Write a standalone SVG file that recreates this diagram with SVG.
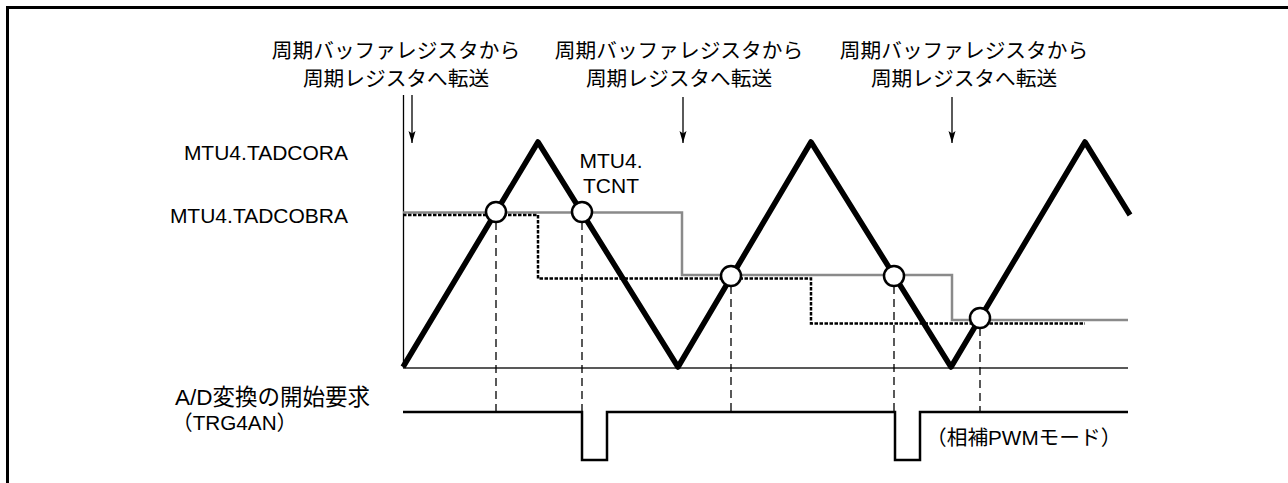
<svg xmlns="http://www.w3.org/2000/svg" width="1288" height="483" viewBox="0 0 1288 483">
<style>
.cjk{font-family:"Liberation Sans","Noto Sans CJK JP",sans-serif;font-size:20.7px;fill:#000}
.lat{font-family:"Liberation Sans",Arial,sans-serif;font-size:21px;fill:#000}
.mid{text-anchor:middle}
.end{text-anchor:end}
.thin{fill:none;stroke:#000;stroke-width:1.3}
.vdash{fill:none;stroke:#000;stroke-width:1.3;stroke-dasharray:8 5}
.circ{fill:#fff;stroke:#000;stroke-width:2.5}
</style>
<defs>
<marker id="ah" markerUnits="userSpaceOnUse" markerWidth="13" markerHeight="8" viewBox="0 -4 13 8" refX="12" refY="0" orient="auto">
<path d="M0,-3.5 L12,0 L0,3.5 L2.5,0 Z" fill="#000"/>
</marker>
</defs>
<rect width="1288" height="483" fill="#fff"/>
<g id="frame"><path d="M7.5,483 V7.5 H1288" fill="none" stroke="#000" stroke-width="3"/></g>

<g id="transfer-labels">
<text class="cjk mid" x="396" y="58">周期バッファレジスタから</text>
<text class="cjk mid" x="396" y="85.5">周期レジスタへ転送</text>
<text class="cjk mid" x="679" y="58">周期バッファレジスタから</text>
<text class="cjk mid" x="679" y="85.5">周期レジスタへ転送</text>
<text class="cjk mid" x="964" y="58">周期バッファレジスタから</text>
<text class="cjk mid" x="964" y="85.5">周期レジスタへ転送</text>
</g>

<g id="axis">
<line class="thin" x1="403.5" y1="95" x2="403.5" y2="368"/>
<line x1="403" y1="368" x2="1128" y2="368" stroke="#222" stroke-width="1.5"/>
</g>

<g id="connectors">
<line class="thin" x1="412" y1="95" x2="412" y2="143" marker-end="url(#ah)"/>
<line class="thin" x1="683" y1="97" x2="683" y2="143" marker-end="url(#ah)"/>
<line class="thin" x1="952" y1="97" x2="952" y2="143" marker-end="url(#ah)"/>
<path class="vdash" d="M496,222 V412 M582,222 V412 M731,286 V412 M894,286 V412 M980,328 V412"/>
</g>

<g id="register-labels">
<text class="lat end" x="348" y="159.5">MTU4.TADCORA</text>
<text class="lat end" x="348" y="222.5">MTU4.TADCOBRA</text>
<text class="lat mid" x="611" y="167.5">MTU4.</text>
<text class="lat mid" x="611" y="192.5">TCNT</text>
</g>

<g id="buffer-level">
<path d="M403,212.5 H682 V275 H952 V320 H1128" fill="none" stroke="#8a8a8a" stroke-width="2.5"/>
</g>
<g id="compare-level">
<path d="M403,215 H538 V278.5 H811 V323.5 H1085" fill="none" stroke="#000" stroke-width="2.5" stroke-dasharray="3.5 1.5"/>
</g>
<g id="tcnt">
<path d="M403,367 L538,142 L678,367 L811,142 L951,367 L1085,142 L1130,215" fill="none" stroke="#000" stroke-width="5.5" stroke-linejoin="round"/>
</g>
<g id="match-points">
<circle class="circ" cx="496" cy="212" r="10"/>
<circle class="circ" cx="582" cy="212" r="10"/>
<circle class="circ" cx="731" cy="276" r="10"/>
<circle class="circ" cx="894" cy="276" r="10"/>
<circle class="circ" cx="980" cy="318" r="10"/>
</g>

<g id="trg4an">
<text class="cjk end" x="370" y="405" style="font-size:22.5px">A/D変換の開始要求</text>
<text class="cjk" x="172" y="430">（TRG4AN）</text>
<path d="M403,412 H582 V460 H607 V412 H895 V460 H920 V412 H1128" fill="none" stroke="#000" stroke-width="2.5"/>
<text class="cjk" x="926" y="445">（相補PWMモード）</text>
</g>
</svg>
